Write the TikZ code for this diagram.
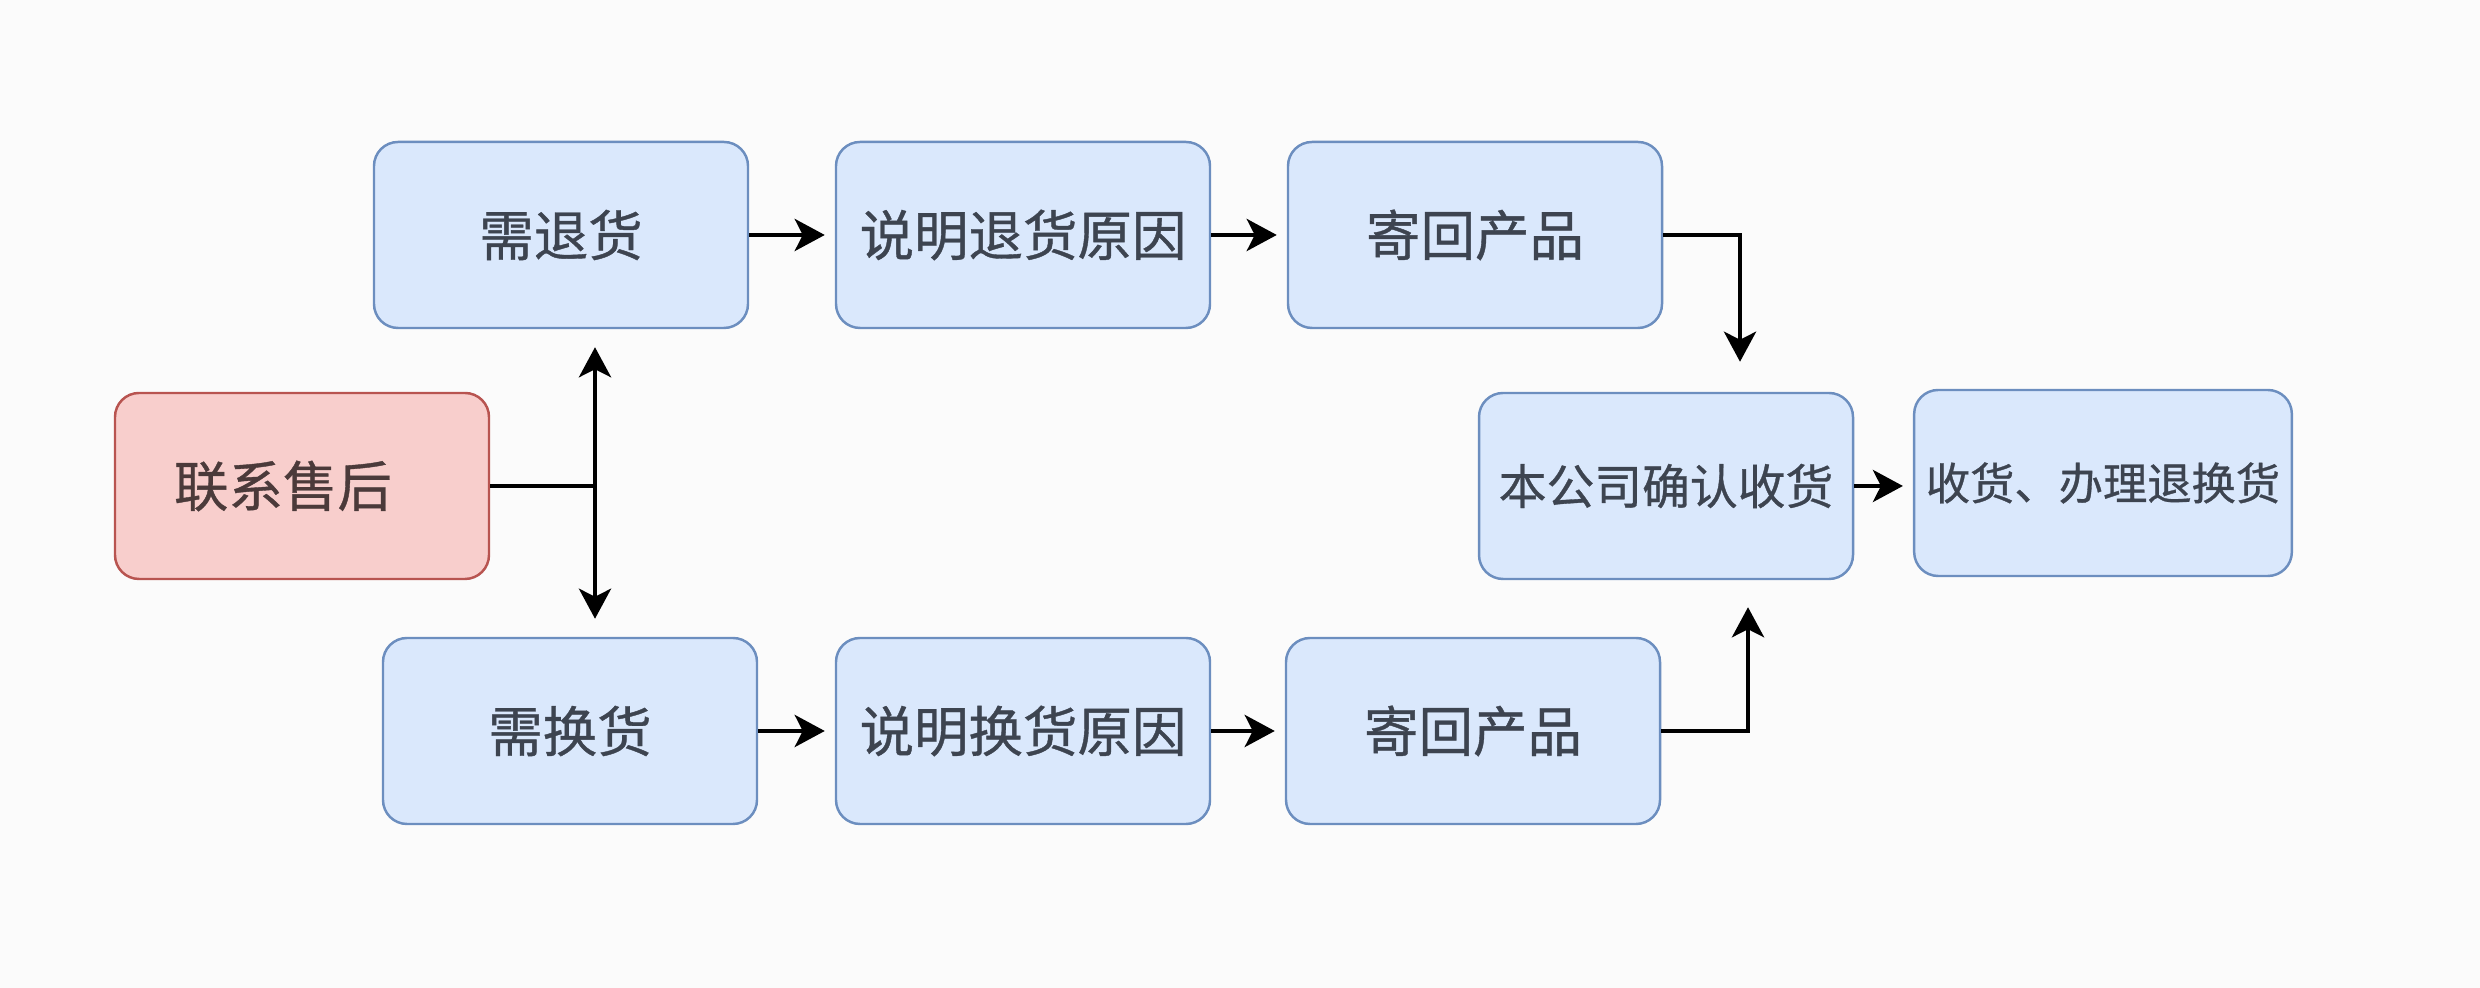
\documentclass[tikz,border=0pt]{standalone}
\usepackage{fontspec}
\newfontfamily\cjk{Noto Sans CJK SC}[FakeBold=0.7]
\usetikzlibrary{positioning, calc, arrows.meta}
\definecolor{boxfill}{HTML}{DAE8FC}
\definecolor{boxline}{HTML}{6C8EBF}
\definecolor{redfill}{HTML}{F8CECC}
\definecolor{redline}{HTML}{B85450}
\definecolor{txt}{HTML}{3D4450}
\definecolor{redtxt}{HTML}{4B3A3A}

\begin{document}
\begin{tikzpicture}[->,>={Stealth[length=0.3cm,width=0.32cm,inset=0.08cm]},line width=1.3pt,
  box/.style={draw=boxline, fill=boxfill, line width=0.7pt, rounded corners=0.24cm,
    minimum width=3.74cm, minimum height=1.86cm, align=center, text=txt,
    font=\cjk\fontsize{15.5}{18}\selectfont},
  redbox/.style={box, draw=redline, fill=redfill, text=redtxt},
  small/.style={font=\cjk\fontsize{13.6}{16}\selectfont},
  tiny/.style={font=\cjk\fontsize{12.6}{15}\selectfont}]
  \fill[-,white!97!gray] (0,0) rectangle (24.8,9.88);
  \useasboundingbox (0,0) rectangle (24.8,9.88);

  \node[redbox] (contact) at (3.02,5.02) {\hspace*{-0.38cm}联系售后};
  \node[box] (tui)      at (5.61,7.53)  {需退货};
  \node[box] (tuiwhy)   at (10.23,7.53) {说明退货原因};
  \node[box] (tuiback)  at (14.75,7.53) {寄回产品};
  \node[box] (huan)     at (5.70,2.57)  {需换货};
  \node[box] (huanwhy)  at (10.23,2.57) {说明换货原因};
  \node[box] (huanback) at (14.73,2.57) {寄回产品};
  \node[box, small] (confirm) at (16.66,5.02) {本公司确认收货};
  \node[box, tiny]  (finish)  at (21.03,5.05) {收货、办理退换货};

  \coordinate (split) at (5.95,5.02);

  \draw[-] (contact.east) -- (split);
  \path[shorten >=0.18cm]
    (split) edge (split |- tui.south)
    (split) edge (split |- huan.north);
  \path[shorten >=0.1cm]
    (tui) edge (tuiwhy)
    (tuiwhy) edge (tuiback)
    (huan.east) edge (huan.east -| huanwhy.west)
    (huanwhy) edge (huanback)
    (confirm.east) edge (confirm.east -| finish.west);
  \draw[shorten >=0.3cm] (tuiback.east) -| ([xshift=0.74cm]confirm.north);
  \draw[shorten >=0.27cm] (huanback.east) -| ([xshift=0.82cm]confirm.south);
\end{tikzpicture}
\end{document}
